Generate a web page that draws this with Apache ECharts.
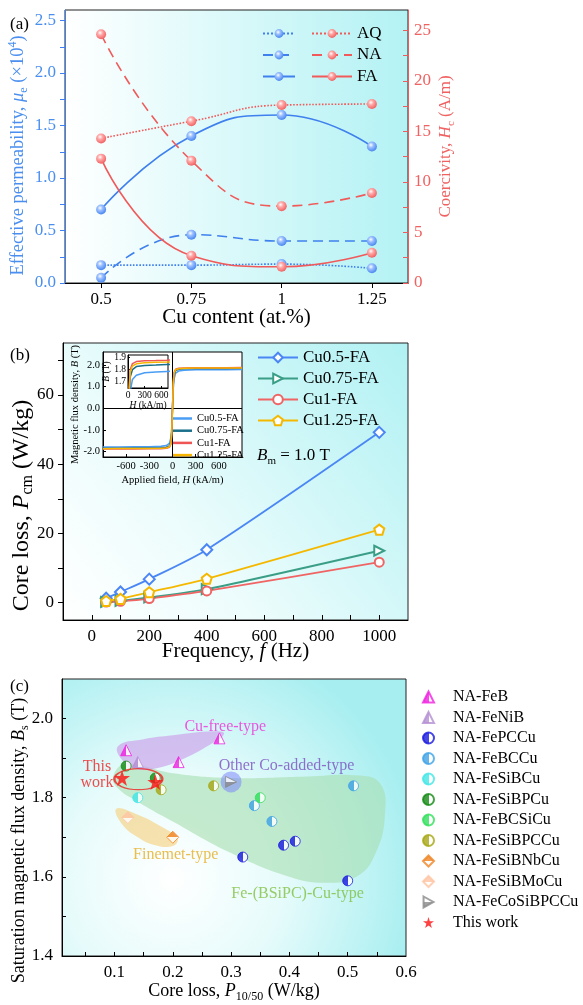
<!DOCTYPE html>
<html><head><meta charset="utf-8">
<script src="https://cdn.jsdelivr.net/npm/echarts@6/dist/echarts.min.js"></script>
<style>html,body{margin:0;padding:0;background:#fff}#c{width:583px;height:1005px}</style>
</head><body><div id="c"></div>
<script>
// ---------- Panel (a) data ----------
const cuContent = [0.5, 0.75, 1, 1.25];
const muAQ = [0.17, 0.17, 0.18, 0.14];
const muNA = [0.05, 0.46, 0.40, 0.40];
const muFA = [0.70, 1.40, 1.60, 1.30];
const hcAQ = [14.3, 16.0, 17.6, 17.7];
const hcNA = [24.6, 12.1, 7.6, 8.9];
const hcFA = [12.3, 2.7, 1.6, 3.0];
const aXLabels = [0.5, 0.75, 1, 1.25];
const aYLabels = [0, 0.5, 1.0, 1.5, 2.0, 2.5];
const aYTicks = [0, 0.25, 0.5, 0.75, 1.0, 1.25, 1.5, 1.75, 2.0, 2.25, 2.5];
const aY2Labels = [0, 5, 10, 15, 20, 25];
const aY2Ticks = [0, 2.5, 5, 7.5, 10, 12.5, 15, 17.5, 20, 22.5, 25];

// ---------- Panel (b) data ----------
const freq = [50, 100, 200, 400, 1000];
const pCu05 = [1.3, 3.1, 6.8, 15.3, 49.2];
const pCu075 = [0.2, 0.5, 1.5, 3.9, 15.0];
const pCu1 = [0.2, 0.4, 1.2, 3.4, 11.7];
const pCu125 = [0.5, 1.1, 3.0, 6.9, 21.1];
const bXLabels = [0, 200, 400, 600, 800, 1000];
const bXTicks = [0, 100, 200, 300, 400, 500, 600, 700, 800, 900, 1000];
const bYLabels = [0, 20, 40, 60];
const bYTicks = [0, 10, 20, 30, 40, 50, 60, 70];
// inset hysteresis loops
const hLoop = [-900, -700, -500, -300, -150, -80, -40, -20, -10, 0, 10, 20, 40, 80, 150, 300, 500, 700, 900];
const bLoop05 = [-1.79, -1.785, -1.78, -1.775, -1.755, -1.72, -1.62, -1.35, -0.9, 0, 0.9, 1.35, 1.62, 1.72, 1.755, 1.775, 1.78, 1.785, 1.79];
const bLoop075 = [-1.846, -1.842, -1.838, -1.835, -1.825, -1.80, -1.74, -1.55, -1.1, 0, 1.1, 1.55, 1.74, 1.80, 1.825, 1.835, 1.838, 1.842, 1.846];
const bLoop1 = [-1.882, -1.878, -1.875, -1.873, -1.866, -1.85, -1.80, -1.65, -1.2, 0, 1.2, 1.65, 1.80, 1.85, 1.866, 1.873, 1.875, 1.878, 1.882];
const bLoop125 = [-1.866, -1.862, -1.86, -1.857, -1.848, -1.83, -1.78, -1.62, -1.15, 0, 1.15, 1.62, 1.78, 1.83, 1.848, 1.857, 1.86, 1.862, 1.866];
const inXLabels = [-600, -300, 0, 300, 600];
const inYLabels = [-2, -1, 0, 1, 2];
const subXLabels = [0, 300, 600];
const subYLabels = [1.7, 1.8, 1.9];

// ---------- Panel (c) data ----------
const feB = [[0.12, 1.92], [0.21, 1.89], [0.28, 1.95]];
const feNiB = [[0.14, 1.89]];
const fePCCu = [[0.32, 1.65], [0.39, 1.68], [0.41, 1.69], [0.50, 1.59]];
const feBCCu = [[0.34, 1.78], [0.37, 1.74], [0.51, 1.83]];
const feSiBCu = [[0.14, 1.80]];
const feSiBPCu = [[0.12, 1.88], [0.17, 1.85]];
const feBCSiCu = [[0.35, 1.80]];
const feSiBPCCu = [[0.18, 1.82], [0.27, 1.83]];
const feSiBNbCu = [[0.20, 1.70]];
const feSiBMoCu = [[0.123, 1.75]];
const feCoSiBPCCu = [[0.30, 1.84]];
const thisWork = [[0.113, 1.85], [0.17, 1.84]];
const cXLabels = [0.1, 0.2, 0.3, 0.4, 0.5, 0.6];
const cXTicks = [0.05, 0.1, 0.15, 0.2, 0.25, 0.3, 0.35, 0.4, 0.45, 0.5, 0.55];
const cYLabels = [1.4, 1.6, 1.8, 2.0];
const cYTicks = [1.5, 1.6, 1.7, 1.8, 1.9, 2.0];
// shaded group outlines (annotation)
const regionCuFree = [[0.106, 1.93], [0.15, 1.948], [0.2, 1.958], [0.27, 1.968], [0.288, 1.962], [0.265, 1.935], [0.21, 1.893], [0.17, 1.874], [0.14, 1.872], [0.115, 1.892]];
const regionFeCu = [[0.098, 1.855], [0.12, 1.885], [0.2, 1.862], [0.3, 1.85], [0.42, 1.853], [0.52, 1.856], [0.556, 1.835], [0.564, 1.76], [0.548, 1.66], [0.515, 1.6], [0.46, 1.585], [0.4, 1.6], [0.3, 1.66], [0.2, 1.74], [0.14, 1.79], [0.105, 1.825]];
const regionFinemet = [[0.103, 1.772], [0.135, 1.76], [0.18, 1.727], [0.208, 1.697], [0.2, 1.678], [0.17, 1.68], [0.14, 1.7], [0.112, 1.735]];
const coHalo = [[0.30, 1.84]];
const thisEllipse = [[0.141, 1.847]];
const regionLabels = [
  { name: 'Cu-free-type', value: [0.29, 1.98], color: '#f030d8' },
  { name: 'Other Co-added-type', value: [0.395, 1.881], color: '#7a4fc0' },
  { name: 'This\nwork', value: [0.07, 1.858], color: '#f02020' },
  { name: 'Finemet-type', value: [0.205, 1.657], color: '#e6ae22' },
  { name: 'Fe-(BSiPC)-Cu-type', value: [0.414, 1.556], color: '#80c040' }
];

// ---------- styling helpers ----------
const F = "'Liberation Serif','Times New Roman',serif";
const BLUE = '#3f80ee', RED = '#f05a5a';
const zip = (xs, ys) => xs.map((x, i) => [x, ys[i]]);
function rich(fs, col) {
  const s = Math.round(fs * 0.65);
  return {
    n: { fontFamily: F, fontSize: fs, color: col, lineHeight: fs + 5 },
    i: { fontFamily: F, fontSize: fs, color: col, fontStyle: 'italic', lineHeight: fs + 5 },
    s: { fontFamily: F, fontSize: s, color: col, verticalAlign: 'bottom', lineHeight: s },
    p: { fontFamily: F, fontSize: s, color: col, verticalAlign: 'top', lineHeight: s }
  };
}
function axis(o) {
  const col = o.color || '#000';
  const fs = o.fs || 17;
  const nfs = o.nfs || fs;
  return {
    type: 'value', gridIndex: o.grid, min: o.min, max: o.max, position: o.position, z: o.z || 0,
    name: o.name || '', nameLocation: 'middle', nameGap: o.nameGap || 30, nameRotate: o.nameRotate,
    nameMoveOverlap: false,
    nameTextStyle: { fontFamily: F, fontSize: nfs, color: col, rich: rich(nfs, col), padding: o.namePad || 0 },
    splitLine: { show: false },
    axisLine: { show: true, onZero: false, lineStyle: { color: o.lineColor || col, width: 1 } },
    axisTick: { show: true, inside: !!o.inside, length: o.len || 5, customValues: o.ticks, lineStyle: { color: o.lineColor || col, width: 1 } },
    axisLabel: { show: true, customValues: o.labels, fontFamily: F, fontSize: fs, color: col, margin: o.margin || 8,
      formatter: o.fmt || (v => String(v)) }
  };
}
function sphere(c, light) {
  return { type: 'radial', x: 0.4, y: 0.35, r: 0.7, colorStops: [
    { offset: 0, color: '#ffffff' }, { offset: 0.35, color: light }, { offset: 1, color: c }] };
}
function half(c, dir) {
  const g = dir === 'left' ? { x: 0, y: 0, x2: 1, y2: 0 } : dir === 'top' ? { x: 0, y: 0, x2: 0, y2: 1 } : { x: 0, y: 1, x2: 0, y2: 0 };
  return Object.assign({ type: 'linear', colorStops: [
    { offset: 0, color: c }, { offset: 0.5, color: c }, { offset: 0.5, color: '#ffffff' }, { offset: 1, color: '#ffffff' }] }, g);
}
const STAR = 'path://M10 0 L12.35 7.6 L20 7.6 L13.8 12.3 L16.2 20 L10 15.3 L3.8 20 L6.2 12.3 L0 7.6 L7.65 7.6 Z';
const ARROW = 'path://M0 0 L18 10 L0 20 Z';
const PENTA = 'path://M10 0 L20 7.3 L16.2 19 L3.8 19 L0 7.3 Z';

function aLine(name, data, yIdx, col, light, type) {
  return { name, type: 'line', xAxisIndex: 0, yAxisIndex: yIdx, data: zip(cuContent, data), smooth: 0.5,
    symbol: 'circle', symbolSize: 10, z: 3,
    lineStyle: { color: col, width: 1.6, type },
    itemStyle: { color: sphere(col, light) } };
}
function bLine(name, data, col, symbol, size) {
  return { name, type: 'line', xAxisIndex: 1, yAxisIndex: 2, data: zip(freq, data), smooth: 0.25,
    symbol, symbolSize: size, z: 3,
    lineStyle: { color: col, width: 1.8 },
    itemStyle: { color: '#ffffff', borderColor: col, borderWidth: 2 } };
}
function loopLine(name, data, col, xi, yi, z) {
  return { name, type: 'line', xAxisIndex: xi, yAxisIndex: yi, data: zip(hLoop, data), showSymbol: false,
    symbol: 'none', z, lineStyle: { color: col, width: 1.5 }, itemStyle: { color: col }, clip: true };
}
function cScatter(name, data, symbol, size, color, border) {
  return { name, type: 'scatter', xAxisIndex: 4, yAxisIndex: 5, data, symbol, symbolSize: size, z: 4,
    itemStyle: { color, borderColor: border, borderWidth: border ? 1 : 0 } };
}
function region(data, fill) {
  return { type: 'custom', xAxisIndex: 4, yAxisIndex: 5, data: [[0.3, 1.8]], silent: true, z: 1,
    renderItem: (params, api) => ({ type: 'polygon',
      shape: { points: data.map(p => api.coord(p)), smooth: 0.45 }, style: { fill } }) };
}

const gradA = { type: 'linear', x: 0, y: 0, x2: 1, y2: 0, colorStops: [{ offset: 0, color: '#ffffff' }, { offset: 1, color: '#b3f2f4' }] };
const gradB = { type: 'linear', x: 0, y: 1, x2: 1, y2: 0, colorStops: [{ offset: 0, color: '#ffffff' }, { offset: 0.35, color: '#ecfcfc' }, { offset: 1, color: '#b0f1f3' }] };
const gradC = { type: 'radial', x: 0.32, y: 0.72, r: 0.9, colorStops: [{ offset: 0, color: '#ffffff' }, { offset: 0.45, color: '#e6fbfb' }, { offset: 1, color: '#a6eef0' }] };

const titleStyle = { fontFamily: F, fontSize: 17, fontWeight: 'normal', color: '#000' };

const option = {
  animation: false,
  backgroundColor: '#ffffff',
  title: [
    { text: '(a)', left: 10, top: 16, padding: 0, textStyle: titleStyle },
    { text: '(b)', left: 10, top: 347, padding: 0, textStyle: titleStyle },
    { text: '(c)', left: 10, top: 678, padding: 0, textStyle: titleStyle },
    { text: '{i|B}{s|m}{n| = 1.0 T}', left: 257, top: 445, padding: 0, textStyle: Object.assign({}, titleStyle, { rich: rich(17, '#000') }) }
  ],
  grid: [
    { left: 65, top: 10, width: 343, height: 273, show: true, backgroundColor: gradA, borderColor: '#222', borderWidth: 1, outerBoundsMode: 'none' },
    { left: 63, top: 343, width: 345, height: 277, show: true, backgroundColor: gradB, borderColor: '#222', borderWidth: 1, outerBoundsMode: 'none' },
    { left: 103, top: 352, width: 139, height: 105, show: true, backgroundColor: '#ffffff', borderColor: '#000', borderWidth: 1, z: 1, outerBoundsMode: 'none' },
    { left: 128, top: 355, width: 40, height: 33, show: true, backgroundColor: '#ffffff', borderColor: '#000', borderWidth: 1, z: 2, outerBoundsMode: 'none' },
    { left: 62, top: 679, width: 344, height: 277, show: true, backgroundColor: gradC, borderColor: '#222', borderWidth: 1, outerBoundsMode: 'none' }
  ],
  xAxis: [
    axis({ grid: 0, min: 0.4, max: 1.35, labels: aXLabels, ticks: aXLabels, name: 'Cu content (at.%)', nfs: 21, nameGap: 24 }),
    axis({ grid: 1, min: -100, max: 1100, labels: bXLabels, ticks: bXTicks, inside: true, name: '{n|Frequency, }{i|f}{n| (Hz)}', nfs: 21, nameGap: 18 }),
    axis({ grid: 2, z: 3, min: -900, max: 900, labels: inXLabels, ticks: inXLabels, inside: true, len: 3, fs: 10.5, margin: 4, name: '{n|Applied field, }{i|H}{n| (kA/m)}', nameGap: 15 }),
    axis({ grid: 3, z: 4, min: 0, max: 720, labels: subXLabels, ticks: subXLabels, inside: true, len: 2, fs: 9.5, margin: 2, name: '{i|H}{n| (kA/m)}', nameGap: 10 }),
    axis({ grid: 4, min: 0.01, max: 0.6, labels: cXLabels, ticks: cXTicks, inside: true, len: 4, name: '{n|Core loss, }{i|P}{s|10/50}{n| (W/kg)}', nfs: 18, nameGap: 24 })
  ],
  yAxis: [
    axis({ grid: 0, min: 0, max: 2.6, labels: aYLabels, ticks: aYTicks, color: '#4a8ff0', lineColor: BLUE, margin: 9, fmt: v => v.toFixed(1),
      name: '{n|Effective permeability, }{i|μ}{s|e}{n| (×10}{p|4}{n|)}', nfs: 18.5, nameGap: 35, nameRotate: 90, namePad: [0, 18, 0, 0] }),
    axis({ grid: 0, position: 'right', min: 0, max: 27, labels: aY2Labels, ticks: aY2Ticks, inside: true, color: '#f06262', lineColor: RED, margin: 6,
      name: '{n|Coercivity, }{i|H}{s|c}{n| (A/m)}', nameGap: 27, nameRotate: 90 }),
    axis({ grid: 1, min: -5, max: 75, labels: bYLabels, ticks: bYTicks, margin: 9, name: '{n|Core loss, }{i|P}{s|cm}{n| (W/kg)}', nfs: 24, nameGap: 27, nameRotate: 90, namePad: [0, 48, 0, 0] }),
    axis({ grid: 2, z: 3, min: -2.25, max: 2.6, labels: inYLabels, ticks: inYLabels, inside: true, len: 3, fs: 10.5, margin: 3, fmt: v => v.toFixed(1),
      name: '{n|Magnetic flux density, }{i|B}{n| (T)}', nameGap: 20, nameRotate: 90 }),
    axis({ grid: 3, z: 4, min: 1.65, max: 1.92, labels: subYLabels, ticks: subYLabels, inside: true, len: 2, fs: 9.5, margin: 2, fmt: v => v.toFixed(1),
      name: '{i|B}{n| (T)}', nameGap: 14, nameRotate: 90 }),
    axis({ grid: 4, min: 1.4, max: 2.1, labels: cYLabels, ticks: cYTicks, inside: true, len: 4, margin: 9, fmt: v => v.toFixed(1),
      name: '{n|Saturation magnetic flux density, }{i|B}{s|s}{n| (T)}', nfs: 18, nameGap: 31, nameRotate: 90, namePad: [0, 46, 0, 0] })
  ],
  legend: [
    { data: ['μAQ', 'μNA', 'μFA'], orient: 'vertical', left: 262, top: 25, padding: 0, itemWidth: 32, itemHeight: 11, itemGap: 4.5,
      formatter: () => ' ', textStyle: { fontFamily: F, fontSize: 17, color: '#000' }, selectedMode: false },
    { data: ['HcAQ', 'HcNA', 'HcFA'], orient: 'vertical', left: 311, top: 25, padding: 0, itemWidth: 40, itemHeight: 11, itemGap: 4.5,
      formatter: n => n.replace('Hc', ''), textStyle: { fontFamily: F, fontSize: 17, color: '#000' }, selectedMode: false },
    { data: ['Cu0.5-FA', 'Cu0.75-FA', 'Cu1-FA', 'Cu1.25-FA'], orient: 'vertical', left: 257, top: 349, padding: 0, itemWidth: 40, itemHeight: 12, itemGap: 4,
      textStyle: { fontFamily: F, fontSize: 17, color: '#000' }, selectedMode: false },
    { data: ['Cu0.5-FA ', 'Cu0.75-FA ', 'Cu1-FA ', 'Cu1.25-FA '], orient: 'vertical', left: 173, top: 413, padding: 0, icon: 'rect', itemWidth: 19, itemHeight: 2.5, itemGap: 1.2,
      formatter: n => n.trim(), textStyle: { fontFamily: F, fontSize: 10.5, color: '#000' }, selectedMode: false },
    { data: ['NA-FeB', 'NA-FeNiB', 'NA-FePCCu', 'NA-FeBCCu', 'NA-FeSiBCu', 'NA-FeSiBPCu', 'NA-FeBCSiCu', 'NA-FeSiBPCCu', 'NA-FeSiBNbCu', 'NA-FeSiBMoCu', 'NA-FeCoSiBPCCu', 'This work'],
      orient: 'vertical', left: 422, top: 689, padding: 0, itemWidth: 11, itemHeight: 11, itemGap: 4.5, symbolKeepAspect: true,
      textStyle: { fontFamily: F, fontSize: 16, color: '#000', padding: [0, 0, 0, 14] }, selectedMode: false }
  ],
  series: [
    // (a)
    aLine('μAQ', muAQ, 0, BLUE, '#9cc0ff', 'dotted'),
    aLine('μNA', muNA, 0, BLUE, '#9cc0ff', [10, 6]),
    aLine('μFA', muFA, 0, BLUE, '#9cc0ff', 'solid'),
    aLine('HcAQ', hcAQ, 1, RED, '#ffa8a8', 'dotted'),
    aLine('HcNA', hcNA, 1, RED, '#ffa8a8', [10, 6]),
    aLine('HcFA', hcFA, 1, RED, '#ffa8a8', 'solid'),
    // (b)
    bLine('Cu0.5-FA', pCu05, '#4a86f5', 'diamond', 11),
    bLine('Cu0.75-FA', pCu075, '#3a9e86', ARROW, 10),
    bLine('Cu1-FA', pCu1, '#f06464', 'circle', 9),
    bLine('Cu1.25-FA', pCu125, '#f5b800', PENTA, 10),
    // inset
    Object.assign(loopLine('Cu0.5-FA ', bLoop05, '#4a9df5', 2, 3, 5), {
      markLine: { silent: true, symbol: 'none', label: { show: false }, lineStyle: { color: '#000', type: 'solid', width: 1 },
        data: [{ xAxis: 0 }, { yAxis: 0 }] } }),
    loopLine('Cu0.75-FA ', bLoop075, '#1b6f8a', 2, 3, 5),
    loopLine('Cu1-FA ', bLoop1, '#f05555', 2, 3, 5),
    loopLine('Cu1.25-FA ', bLoop125, '#f7b500', 2, 3, 5),
    // sub-inset
    loopLine('sub05', bLoop05, '#4a9df5', 3, 4, 6),
    loopLine('sub075', bLoop075, '#1b6f8a', 3, 4, 6),
    loopLine('sub1', bLoop1, '#f05555', 3, 4, 6),
    loopLine('sub125', bLoop125, '#f7b500', 3, 4, 6),
    // (c) regions
    region(regionFeCu, 'rgba(168,222,178,0.62)'),
    region(regionCuFree, 'rgba(205,168,235,0.72)'),
    region(regionFinemet, 'rgba(245,208,125,0.62)'),
    { name: 'coHalo', type: 'scatter', xAxisIndex: 4, yAxisIndex: 5, data: coHalo, symbolSize: 21, z: 2, silent: true,
      itemStyle: { color: 'rgba(125,135,250,0.68)' } },
    { name: 'regionLabels', type: 'scatter', xAxisIndex: 4, yAxisIndex: 5, silent: true, z: 5, symbolSize: 1,
      itemStyle: { color: 'rgba(0,0,0,0)' },
      data: regionLabels.map(d => ({ name: d.name, value: d.value,
        label: { show: true, position: 'inside', formatter: '{b}', color: d.color, fontFamily: F, fontSize: 16, lineHeight: 16 } })) },
    cScatter('NA-FeB', feB, 'triangle', 11, half('#f020e0', 'left'), '#f020e0'),
    cScatter('NA-FeNiB', feNiB, 'triangle', 11, half('#b48fd2', 'left'), '#b48fd2'),
    cScatter('NA-FePCCu', fePCCu, 'circle', 10, half('#1818e0', 'left'), '#1818e0'),
    cScatter('NA-FeBCCu', feBCCu, 'circle', 10, half('#3ea2e6', 'left'), '#3ea2e6'),
    cScatter('NA-FeSiBCu', feSiBCu, 'circle', 10, half('#40e6e6', 'left'), '#40e6e6'),
    cScatter('NA-FeSiBPCu', feSiBPCu, 'circle', 10, half('#138a13', 'left'), '#138a13'),
    cScatter('NA-FeBCSiCu', feBCSiCu, 'circle', 10, half('#2fe05a', 'left'), '#2fe05a'),
    cScatter('NA-FeSiBPCCu', feSiBPCCu, 'circle', 10, half('#a6a614', 'left'), '#a6a614'),
    cScatter('NA-FeSiBNbCu', feSiBNbCu, 'diamond', 12, half('#f08424', 'top'), '#f08424'),
    cScatter('NA-FeSiBMoCu', feSiBMoCu, 'diamond', 12, half('#ffc4a4', 'top'), '#ffc4a4'),
    cScatter('NA-FeCoSiBPCCu', feCoSiBPCCu, ARROW, 11, half('#8a8a8a', 'bottom'), '#8a8a8a'),
    cScatter('This work', thisWork, STAR, 16, '#ff1010', null),
    { name: 'ellipse', type: 'scatter', xAxisIndex: 4, yAxisIndex: 5, data: thisEllipse, symbol: 'circle', symbolSize: [48, 21], z: 5, silent: true,
      itemStyle: { color: 'rgba(0,0,0,0)', borderColor: '#f02020', borderWidth: 1.6 } }
  ]
};
const chart = echarts.init(document.getElementById('c'), null, { renderer: 'canvas' });
chart.setOption(option);
</script></body></html>
